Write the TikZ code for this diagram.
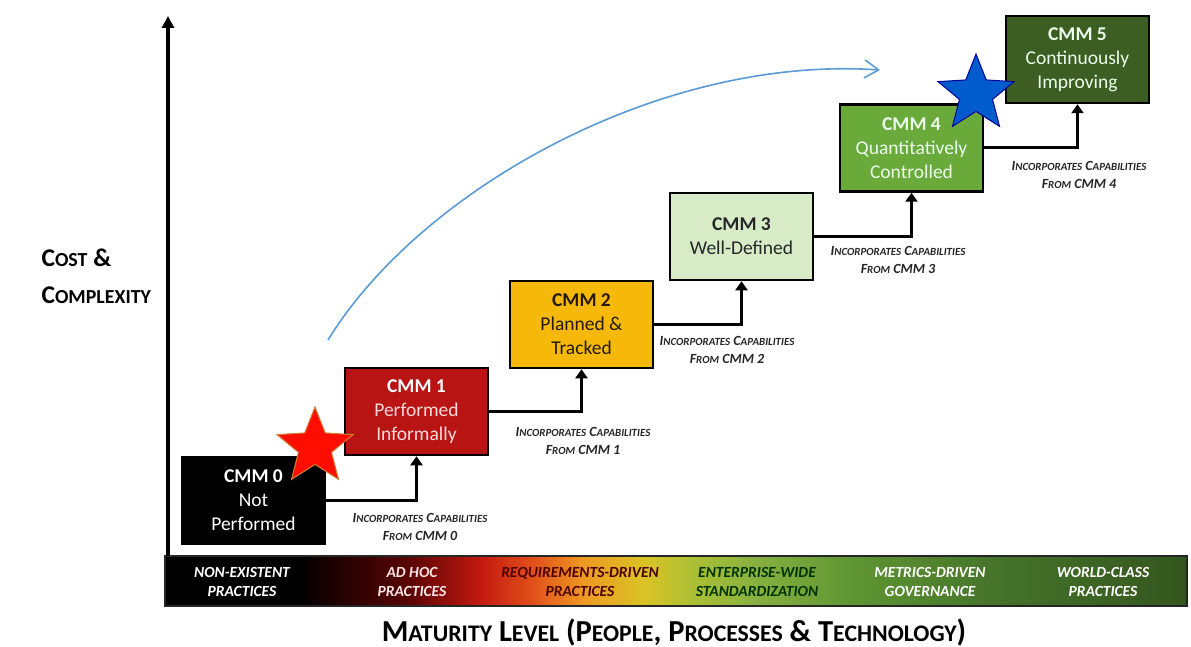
\documentclass[tikz,border=0pt]{standalone}
\usepackage{fontspec}
\setmainfont{Carlito}
\usetikzlibrary{arrows.meta,shapes.geometric}
\definecolor{cmmred}{HTML}{B81414}
\definecolor{cmmamber}{HTML}{F6B90A}
\definecolor{cmmpale}{HTML}{D6EBC6}
\definecolor{cmmgreen}{HTML}{6AAA3B}
\definecolor{cmmdark}{HTML}{3D5E22}
\definecolor{barmaroon}{HTML}{5C0404}
\definecolor{barred}{HTML}{C41A10}
\definecolor{barorange}{HTML}{E2501A}
\definecolor{baramber}{HTML}{EE9A22}
\definecolor{baryellow}{HTML}{D9C426}
\definecolor{barlime}{HTML}{A9BF35}
\definecolor{bargreen}{HTML}{86B040}
\definecolor{barmid}{HTML}{5F9632}
\definecolor{bardark}{HTML}{44722A}
\definecolor{bardeep}{HTML}{34561E}
\definecolor{arcblue}{HTML}{5B9BD5}
\pgfdeclarehorizontalshading{maturity}{100bp}{color(0bp)=(black); color(25bp)=(black); color(31.5bp)=(black); color(37bp)=(barmaroon); color(40.5bp)=(barred); color(43bp)=(barorange); color(45.5bp)=(baramber); color(48.5bp)=(baryellow); color(51bp)=(barlime); color(54bp)=(bargreen); color(58.5bp)=(barmid); color(66bp)=(bardark); color(75bp)=(bardeep); color(100bp)=(bardeep)}
\newcommand{\lc}[1]{\scalebox{0.78}{#1}}
\tikzset{
    cmmbox/.style={draw=black, line width=2.5pt, minimum width=143pt, minimum height=87pt, align=center, inner sep=2pt, font=\fontsize{19.5}{24}\selectfont},
    stepline/.style={line width=3pt, -{Triangle[length=9pt,width=12pt]}},
    inclabel/.style={font=\bfseries\itshape\fontsize{14}{17.5}\selectfont, align=center, text=black!85},
    barlabel/.style={font=\bfseries\itshape\fontsize{15.5}{18.5}\selectfont, align=center},
    starmark/.style={star, star points=5, star point ratio=2.3, minimum size=80pt, inner sep=0pt, line width=1pt}
}

\begin{document}
\begin{tikzpicture}[x=1pt, y=-1pt]
    \useasboundingbox (0,0) rectangle (1191,647);

    % maturity bar
    \shade[shading=maturity, draw=black!85, line width=2.5pt] (165,556) rectangle (1187,606);
    \node[barlabel, text=white] (bar0) at (242,582) {NON-EXISTENT\\PRACTICES};
    \node[barlabel, text=white!90!red] (bar1) at (412,582) {AD HOC\\PRACTICES};
    \node[barlabel, text=black!70!red] (bar2) at (580,582) {REQUIREMENTS-DRIVEN\\PRACTICES};
    \node[barlabel, text=black!80!green] (bar3) at (757,582) {ENTERPRISE-WIDE\\STANDARDIZATION};
    \node[barlabel, text=white] (bar4) at (930,582) {METRICS-DRIVEN\\GOVERNANCE};
    \node[barlabel, text=white] (bar5) at (1103,582) {WORLD-CLASS\\PRACTICES};

    % axis
    \coordinate (origin) at (168,556);
    \coordinate (ytop) at (168,16);
    \draw[line width=3.5pt, -{Triangle[length=12pt,width=12pt]}] (origin) -- (ytop);
    \node[font=\bfseries\fontsize{25.5}{37}\selectfont, align=left, anchor=west] (ylabel) at (38,276) {C\lc{OST} \&\\C\lc{OMPLEXITY}};
    \node[font=\bfseries\fontsize{30.5}{33}\selectfont] (xlabel) at (674,632) {M\lc{ATURITY} L\lc{EVEL} (P\lc{EOPLE}, P\lc{ROCESSES} \& T\lc{ECHNOLOGY})};

    % levels
    \node[cmmbox, fill=black, text=white] (cmm0) at (253.5,500.5) {\textbf{CMM 0}\\Not\\Performed};
    \node[cmmbox, fill=cmmred, text=red!15] (cmm1) at (416.5,411.5) {\textcolor{white}{\textbf{CMM 1}}\\Performed\\Informally};
    \node[cmmbox, fill=cmmamber, text=black!80!brown] (cmm2) at (581.5,324.5) {\textbf{CMM 2}\\Planned \&\\Tracked};
    \node[cmmbox, fill=cmmpale, text=black!85] (cmm3) at (741.5,236.5) {\textbf{CMM 3}\\Well-Defined};
    \node[cmmbox, fill=cmmgreen, text=green!8] (cmm4) at (911.5,148) {\textbf{CMM 4}\\Quantitatively\\Controlled};
    \node[cmmbox, fill=cmmdark, text=green!8] (cmm5) at (1077.5,59.5) {\textbf{CMM 5}\\Continuously\\Improving};

    % steps
    \draw[stepline] (cmm0.east) -| (cmm1.south);
    \draw[stepline] (cmm1.east) -| (cmm2.south);
    \draw[stepline] (cmm2.east) -| (cmm3.south);
    \draw[stepline] (cmm3.east) -| (cmm4.south);
    \draw[stepline] (cmm4.east) -| (cmm5.south);
    \node[inclabel] (inc0) at (420,527) {I\lc{NCORPORATES} C\lc{APABILITIES}\\F\lc{ROM} CMM 0};
    \node[inclabel] (inc1) at (583,441) {I\lc{NCORPORATES} C\lc{APABILITIES}\\F\lc{ROM} CMM 1};
    \node[inclabel] (inc2) at (727,350) {I\lc{NCORPORATES} C\lc{APABILITIES}\\F\lc{ROM} CMM 2};
    \node[inclabel] (inc3) at (898,260) {I\lc{NCORPORATES} C\lc{APABILITIES}\\F\lc{ROM} CMM 3};
    \node[inclabel] (inc4) at (1079,175) {I\lc{NCORPORATES} C\lc{APABILITIES}\\F\lc{ROM} CMM 4};

    % progress arc and stars
    \coordinate (arcstart) at (328,340);
    \coordinate (arcend) at (880,70);
    \draw[arcblue, line width=1.6pt, -{Straight Barb[length=14pt,width=18pt]}] (arcstart) .. controls (420,190) and (660,55) .. (arcend);
    \node[starmark, fill=red!90!orange, draw=brown!80!orange] (now) at (315,447) {};
    \node[starmark, fill=blue!55!cyan!80!black, draw=blue!60!black] (goal) at (976,94) {};
\end{tikzpicture}
\end{document}
